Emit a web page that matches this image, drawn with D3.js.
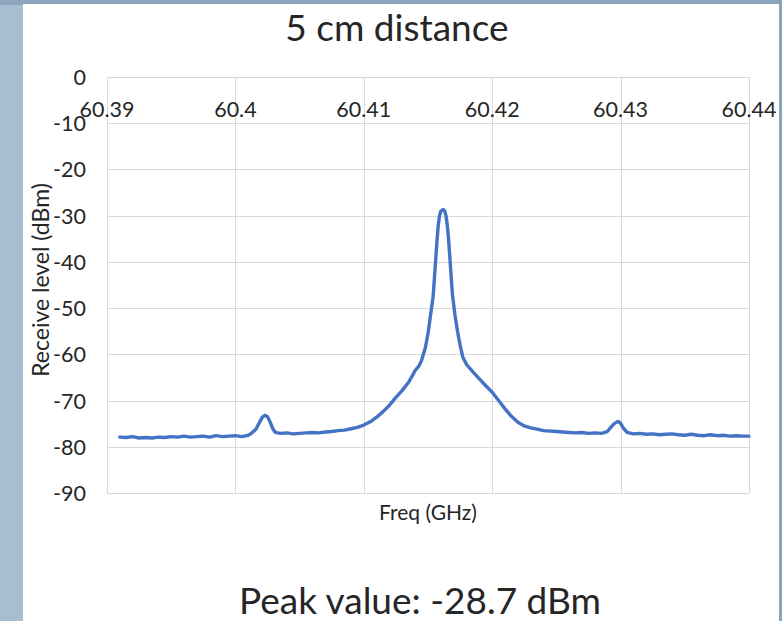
<!DOCTYPE html>
<html>
<head>
<meta charset="utf-8">
<script src="https://cdn.jsdelivr.net/npm/d3@7"></script>
<style>
  body { margin: 0; background: #a8bdd1; }
  svg { display: block; }
  text { font-family: Lato, "Noto Sans", sans-serif; fill: #262626; }
</style>
</head>
<body>
<script>
// spectrum, freq in GHz, level in dBm
var freq = [
  60.3910, 60.3915, 60.3920, 60.3925, 60.3930, 60.3935, 60.3940, 60.3945, 60.3950, 60.3955,
  60.3960, 60.3965, 60.3970, 60.3975, 60.3980, 60.3985, 60.3990, 60.3995, 60.4000, 60.4005,
  60.4010, 60.4012, 60.4016, 60.4019, 60.4021, 60.4023, 60.4025, 60.4027, 60.4029, 60.4031,
  60.4035, 60.4040, 60.4045, 60.4050, 60.4055, 60.4060, 60.4065, 60.4070, 60.4075, 60.4080,
  60.4085, 60.4090, 60.4095, 60.4100, 60.4105, 60.4110, 60.4115, 60.4120, 60.4125, 60.4130,
  60.4135, 60.4140, 60.4143, 60.4145, 60.4148, 60.4150, 60.4152, 60.4154, 60.4155, 60.4156,
  60.4157, 60.4158, 60.4159, 60.4160, 60.4161, 60.4162, 60.4163, 60.4164, 60.4165, 60.4166,
  60.4167, 60.4168, 60.4169, 60.4171, 60.4173, 60.4175, 60.4177, 60.4180, 60.4185, 60.4190,
  60.4195, 60.4200, 60.4205, 60.4210, 60.4215, 60.4220, 60.4225, 60.4230, 60.4235, 60.4240,
  60.4250, 60.4255, 60.4260, 60.4265, 60.4270, 60.4275, 60.4280, 60.4285, 60.4288, 60.4290,
  60.4292, 60.4295, 60.4298, 60.4300, 60.4302, 60.4305, 60.4310, 60.4315, 60.4320, 60.4325,
  60.4330, 60.4335, 60.4340, 60.4345, 60.4350, 60.4355, 60.4360, 60.4365, 60.4370, 60.4375,
  60.4380, 60.4385, 60.4390, 60.4395, 60.4400
];
var level = [
  -77.9, -78.0, -77.8, -78.1, -78.0, -78.1, -77.9, -78.0, -77.8, -77.9,
  -77.7, -77.9, -77.8, -77.7, -77.9, -77.6, -77.8, -77.7, -77.6, -77.8,
  -77.5, -77.2, -76.2, -74.6, -73.6, -73.2, -73.5, -74.6, -76.0, -76.9,
  -77.1, -77.0, -77.2, -77.1, -77.0, -76.9, -77.0, -76.8, -76.7, -76.5,
  -76.4, -76.1, -75.8, -75.3, -74.6, -73.6, -72.4, -71.0, -69.3, -67.8,
  -66.0, -63.5, -62.5, -61.3, -58.5, -55.5, -51.5, -47.5, -43.5, -39.5,
  -35.5, -32.0, -30.0, -29.0, -28.8, -28.7, -29.0, -30.0, -32.0, -35.0,
  -39.0, -43.0, -47.0, -51.5, -55.0, -58.0, -60.5, -62.2, -63.8, -65.3,
  -66.8, -68.2, -70.0, -71.8, -73.4, -74.7, -75.5, -75.9, -76.2, -76.5,
  -76.7, -76.8, -76.9, -77.0, -76.9, -77.1, -77.0, -77.1, -76.9, -76.6,
  -75.9, -75.0, -74.5, -74.9, -75.9, -76.9, -77.2, -77.1, -77.3, -77.2,
  -77.4, -77.3, -77.2, -77.4, -77.5, -77.3, -77.5, -77.6, -77.4, -77.6,
  -77.5, -77.7, -77.6, -77.7, -77.7
];
var xTicks = [60.39, 60.4, 60.41, 60.42, 60.43, 60.44];
var yTicks = [0, -10, -20, -30, -40, -50, -60, -70, -80, -90];

var title = "5 cm distance";
var note = "Peak value: -28.7 dBm";

var width = 782, height = 621;
var svg = d3.select("body").append("svg")
    .attr("width", width)
    .attr("height", height);

// slide background and white card
svg.append("rect").attr("width", width).attr("height", 5).attr("fill", "#8ea6bd");
svg.append("rect").attr("x", 778).attr("width", 4).attr("height", height).attr("fill", "#8ba4bc");
svg.append("rect")
    .attr("x", 23).attr("y", 4)
    .attr("width", 756).attr("height", height - 4)
    .attr("fill", "#fff");

var x = d3.scaleLinear().domain([60.39, 60.44]).range([107, 749]);
var y = d3.scaleLinear().domain([-90, 0]).range([493, 77]);

// gridlines
svg.append("g").selectAll("line")
    .data(yTicks).enter()
    .append("line")
    .attr("x1", 107).attr("x2", 749)
    .attr("y1", function(d){ return Math.round(y(d)) + 0.5; })
    .attr("y2", function(d){ return Math.round(y(d)) + 0.5; })
    .attr("stroke", "#d9d9d9");
svg.append("g").selectAll("line")
    .data(xTicks).enter()
    .append("line")
    .attr("y1", 77).attr("y2", 493)
    .attr("x1", function(d){ return Math.round(x(d)) + 0.5; })
    .attr("x2", function(d){ return Math.round(x(d)) + 0.5; })
    .attr("stroke", "#d9d9d9");

// x tick labels sit under the 0 line (Excel axis crossing)
svg.append("g").selectAll("text")
    .data(xTicks).enter()
    .append("text")
    .attr("x", function(d){ return x(d); })
    .attr("y", 117)
    .attr("text-anchor", "middle")
    .style("font-size", "21.5px")
    .text(function(d){ return d3.format("")(+d.toFixed(2)); });

svg.append("g").selectAll("text")
    .data(yTicks).enter()
    .append("text")
    .attr("x", 86)
    .attr("y", function(d){ return y(d) + 8; })
    .attr("text-anchor", "end")
    .style("font-size", "21.5px")
    .text(function(d){ return d; });

var line = d3.line()
    .x(function(d){ return x(d[0]); })
    .y(function(d){ return y(d[1]); });

svg.append("path")
    .datum(d3.zip(freq, level))
    .attr("fill", "none")
    .attr("stroke", "#4472c4")
    .attr("stroke-width", 3.4)
    .attr("stroke-linejoin", "round")
    .attr("stroke-linecap", "round")
    .attr("d", line);

svg.append("text")
    .attr("x", 428).attr("y", 520)
    .attr("text-anchor", "middle")
    .style("font-size", "21px")
    .text("Freq (GHz)");

svg.append("text")
    .attr("transform", "translate(49,280) rotate(-90)")
    .attr("text-anchor", "middle")
    .style("font-size", "23px")
    .text("Receive level (dBm)");

svg.append("text")
    .attr("x", 397).attr("y", 41)
    .attr("text-anchor", "middle")
    .style("font-size", "37px")
    .text(title);

svg.append("text")
    .attr("x", 420).attr("y", 614)
    .attr("text-anchor", "middle")
    .style("font-size", "37px")
    .text(note);
</script>
</body>
</html>
